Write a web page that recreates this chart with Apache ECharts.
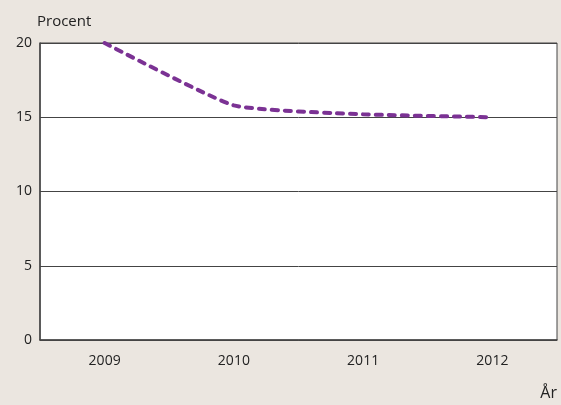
<!DOCTYPE html>
<html><head><meta charset="utf-8">
<script src="https://cdn.jsdelivr.net/npm/echarts@6/dist/echarts.min.js"></script>
<style>html,body{margin:0;padding:0;background:#ebe6e0;}#c{width:561px;height:405px;}</style>
</head><body><div id="c"></div>
<script>
const categories = ['2009', '2010', '2011', '2012'];
const values = [20.0, 15.8, 15.2, 15.0];
const yTicks = [0, 5, 10, 15, 20];

const chart = echarts.init(document.getElementById('c'), null, {renderer: 'canvas'});
const font = "'Open Sans', sans-serif";
chart.setOption({
  backgroundColor: '#ebe6e0',
  animation: false,
  grid: {left: 40, right: 4, top: 43, bottom: 65, show: true, backgroundColor: '#ffffff', borderColor: '#444', borderWidth: 1},
  xAxis: {
    type: 'category', data: categories, boundaryGap: true,
    axisLine: {lineStyle: {color: '#444', width: 1.5}},
    axisTick: {show: false},
    axisLabel: {color: '#222', fontFamily: font, fontSize: 14, margin: 14},
    name: 'År', nameLocation: 'end', nameGap: 0,
    nameTextStyle: {color: '#222', fontFamily: font, fontSize: 16, align: 'right', verticalAlign: 'top', padding: [45, 0, 0, 0]}
  },
  yAxis: {
    type: 'value', min: 0, max: 20, interval: 5,
    axisLine: {show: true, lineStyle: {color: '#444', width: 1.5}},
    axisTick: {show: false},
    splitLine: {lineStyle: {color: '#444', width: 1}},
    axisLabel: {color: '#222', fontFamily: font, fontSize: 14, margin: 8,
      formatter: v => yTicks.includes(v) ? String(v) : ''},
    name: 'Procent', nameLocation: 'end', nameGap: 14,
    nameTextStyle: {color: '#222', fontFamily: font, fontSize: 15, align: 'left', padding: [0, 0, 0, -3]}
  },
  series: [{
    type: 'line', data: values, smooth: 0.15, symbol: 'none',
    lineStyle: {color: '#7b3294', width: 4, type: [6, 7], cap: 'round'}
  }]
});
</script></body></html>
